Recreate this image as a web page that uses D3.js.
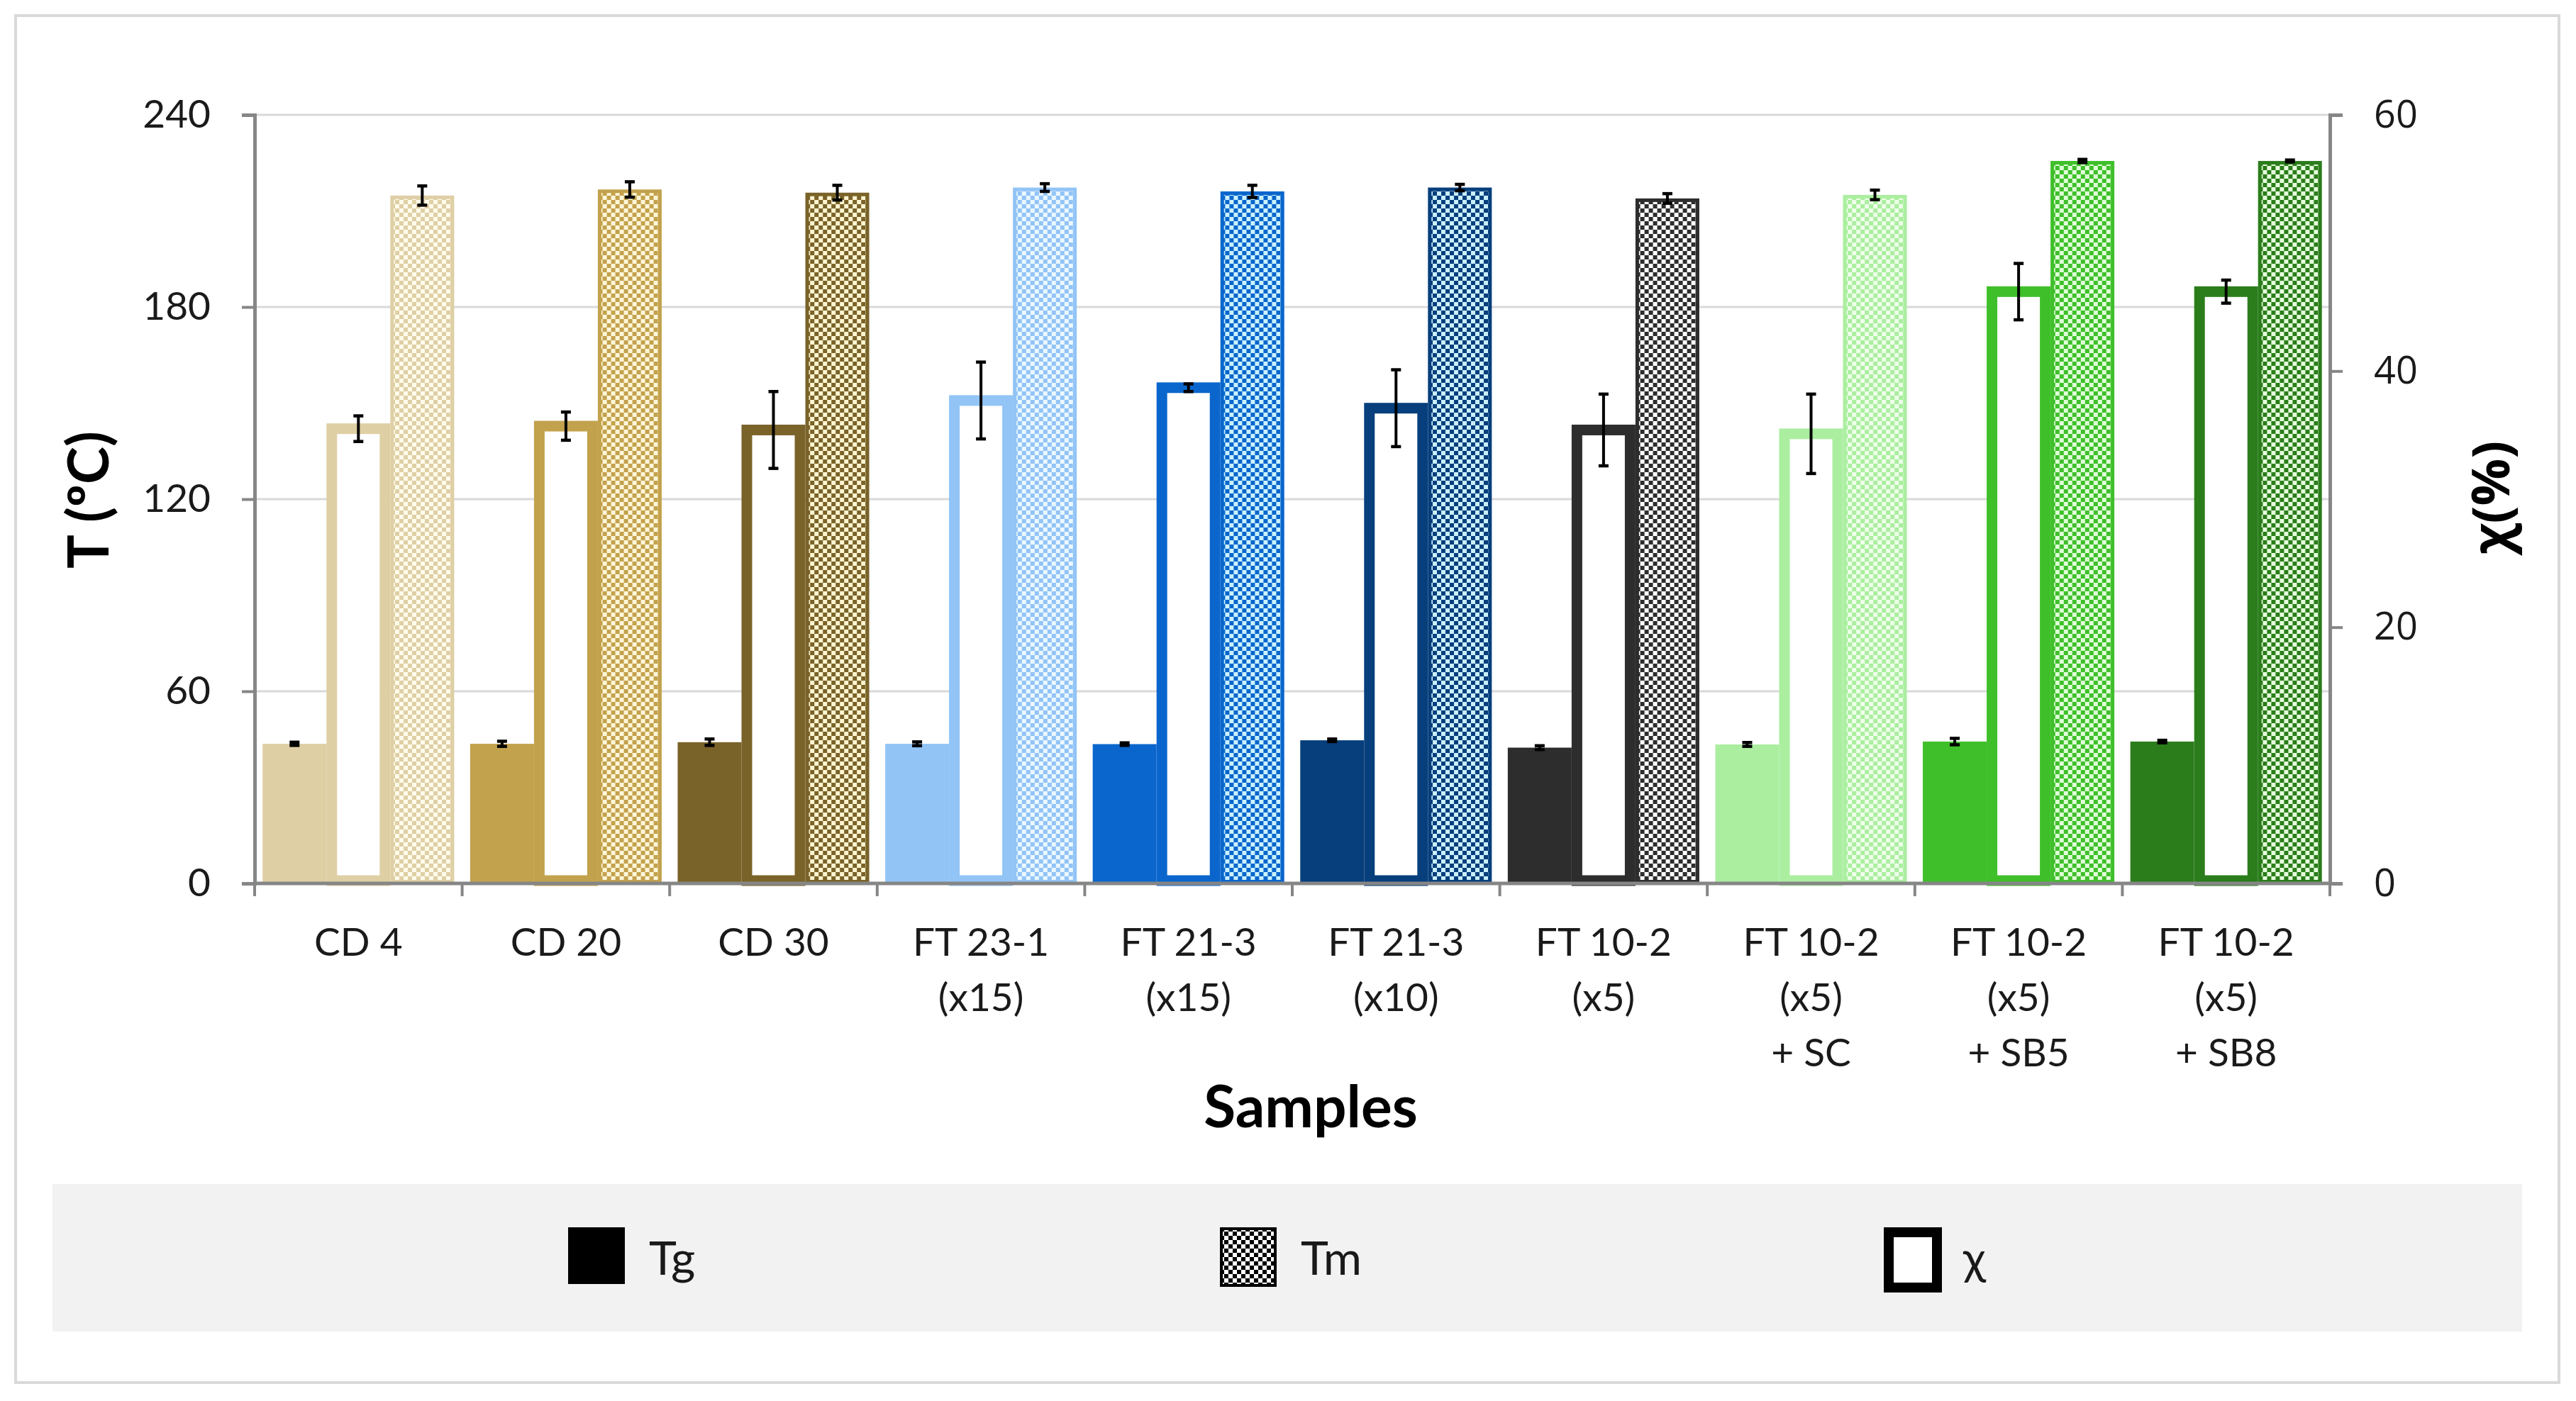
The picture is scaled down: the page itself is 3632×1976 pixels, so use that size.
<!DOCTYPE html>
<html>
<head>
<meta charset="utf-8">
<script src="https://cdn.jsdelivr.net/npm/d3@7/dist/d3.min.js"></script>
<style>
  html, body { margin: 0; padding: 0; background: #fff; }
  svg { display: block; }
</style>
</head>
<body>
<script>
// ---------- DATA ----------
const categories = ["CD 4", "CD 20", "CD 30", "FT 23-1\n(x15)", "FT 21-3\n(x15)", "FT 21-3\n(x10)",
                    "FT 10-2\n(x5)", "FT 10-2\n(x5)\n+ SC", "FT 10-2\n(x5)\n+ SB5", "FT 10-2\n(x5)\n+ SB8"];
const tg     = [43.6, 43.6, 44.1, 43.6, 43.5, 44.7, 42.4, 43.4, 44.3, 44.3];
const tgErr  = [0.5, 0.8, 1.0, 0.6, 0.4, 0.4, 0.6, 0.6, 1.0, 0.4];
const chi    = [35.5, 35.7, 35.4, 37.7, 38.7, 37.1, 35.4, 35.1, 46.2, 46.2];
const chiErr = [1.0, 1.1, 3.0, 3.0, 0.3, 3.0, 2.8, 3.1, 2.2, 0.9];
const tm     = [214.8, 216.7, 215.7, 217.3, 216.1, 217.3, 213.9, 215.0, 225.6, 225.6];
const tmErr  = [3.0, 2.4, 2.3, 1.2, 1.9, 1.0, 1.5, 1.5, 0.5, 0.3];
const leftTicks  = [0, 60, 120, 180, 240];
const rightTicks = [0, 20, 40, 60];
const seriesKeys = ["Tg", "χ", "Tm"];
const legendNames = ["Tg", "Tm", "χ"];
const mainColors  = ["#dfcfa5", "#c3a24d", "#7a6329", "#92c4f6", "#0a66cc", "#073f7c", "#2d2d2d", "#abeea0", "#3fbf2a", "#2b7d1b"];
const lightColors = ["#fffbea", "#fff6d8", "#fff5d0", "#eaf8ff", "#c9f1ff", "#c9efff", "#ffffff", "#eeffea", "#e0ffd8", "#e4ffdc"];

// ---------- LAYOUT ----------
const W = 3632, H = 1976;
const plot = { left: 359, right: 3285, top: 162, bottom: 1246 };
const FONT = "Lato, 'Open Sans', sans-serif";
const FONT2 = "'Open Sans', 'Noto Sans', sans-serif";

const svg = d3.select("body").append("svg").attr("width", W).attr("height", H);

// outer frame
svg.append("rect").attr("x", 22).attr("y", 22).attr("width", 3586).attr("height", 1928)
  .attr("fill", "#fff").attr("stroke", "#d9d9d9").attr("stroke-width", 4);

// scales
const x0 = d3.scaleBand().domain(categories).range([plot.left, plot.right]).padding(0);
const x1 = d3.scaleBand().domain(seriesKeys).range([0, x0.bandwidth()]).paddingInner(0).paddingOuter(0.125);
const yL = d3.scaleLinear().domain([0, 240]).range([plot.bottom, plot.top]);
const yR = d3.scaleLinear().domain([0, 60]).range([plot.bottom, plot.top]);

// patterns
const defs = svg.append("defs");
const cell = 6;
categories.forEach((c, i) => {
  const p = defs.append("pattern").attr("id", "chk" + i).attr("patternUnits", "userSpaceOnUse")
    .attr("width", cell * 2).attr("height", cell * 2);
  p.append("rect").attr("width", cell * 2).attr("height", cell * 2).attr("fill", lightColors[i]);
  p.append("rect").attr("width", cell).attr("height", cell).attr("fill", mainColors[i]);
  p.append("rect").attr("x", cell).attr("y", cell).attr("width", cell).attr("height", cell).attr("fill", mainColors[i]);
});
const lp = defs.append("pattern").attr("id", "chkLegend").attr("patternUnits", "userSpaceOnUse")
  .attr("width", cell * 2).attr("height", cell * 2);
lp.append("rect").attr("width", cell * 2).attr("height", cell * 2).attr("fill", "#fff");
lp.append("rect").attr("width", cell).attr("height", cell).attr("fill", "#000");
lp.append("rect").attr("x", cell).attr("y", cell).attr("width", cell).attr("height", cell).attr("fill", "#000");

// gridlines
svg.append("g").selectAll("line").data(leftTicks.filter(d => d > 0)).join("line")
  .attr("x1", plot.left).attr("x2", plot.right)
  .attr("y1", d => yL(d)).attr("y2", d => yL(d))
  .attr("stroke", "#d9d9d9").attr("stroke-width", 3);

// bars
const groups = svg.append("g").selectAll("g").data(categories).join("g")
  .attr("transform", d => `translate(${x0(d)},0)`);

// Tg
groups.append("rect")
  .attr("x", x1("Tg")).attr("width", x1.bandwidth())
  .attr("y", (d, i) => yL(tg[i])).attr("height", (d, i) => yL(0) - yL(tg[i]))
  .attr("fill", (d, i) => mainColors[i]);

// chi (outlined, white)
const sw = 15;
groups.append("rect")
  .attr("x", x1("χ") + sw / 2).attr("width", x1.bandwidth() - sw)
  .attr("y", (d, i) => yR(chi[i])).attr("height", (d, i) => yR(0) - yR(chi[i]) - 4)
  .attr("fill", "#fff").attr("stroke", (d, i) => mainColors[i]).attr("stroke-width", sw);

// Tm (checker)
const tw = 5;
groups.append("rect")
  .attr("x", x1("Tm") + tw / 2).attr("width", x1.bandwidth() - tw)
  .attr("y", (d, i) => yL(tm[i]) + tw / 2).attr("height", (d, i) => yL(0) - yL(tm[i]) - tw)
  .attr("fill", (d, i) => `url(#chk${i})`).attr("stroke", (d, i) => mainColors[i]).attr("stroke-width", tw);

// error bars
function errBars(key, vals, errs, scale) {
  const cx = x1(key) + x1.bandwidth() / 2;
  const g = groups.append("g").attr("stroke", "#000");
  g.append("line").attr("x1", cx).attr("x2", cx)
    .attr("y1", (d, i) => scale(vals[i] - errs[i])).attr("y2", (d, i) => scale(vals[i] + errs[i]))
    .attr("stroke-width", 4);
  [-1, 1].forEach(s => {
    g.append("line").attr("x1", cx - 7).attr("x2", cx + 7)
      .attr("y1", (d, i) => scale(vals[i] + s * errs[i])).attr("y2", (d, i) => scale(vals[i] + s * errs[i]))
      .attr("stroke-width", 4.5);
  });
}
errBars("Tg", tg, tgErr, yL);
errBars("χ", chi, chiErr, yR);
errBars("Tm", tm, tmErr, yL);

// axes
const axisColor = "#868686";
const gL = svg.append("g").attr("transform", `translate(${plot.left},0)`)
  .call(d3.axisLeft(yL).tickValues(leftTicks).tickSize(18).tickPadding(44).tickFormat(d3.format("d")));
const gR = svg.append("g").attr("transform", `translate(${plot.right},0)`)
  .call(d3.axisRight(yR).tickValues(rightTicks).tickSize(18).tickPadding(44).tickFormat(d3.format("d")));
[gL, gR].forEach(g => {
  g.select(".domain").attr("stroke", axisColor).attr("stroke-width", 5);
  g.selectAll(".tick line").attr("stroke", axisColor).attr("stroke-width", 4);
});
gL.selectAll(".tick text").attr("font-family", FONT).attr("font-size", 55).attr("fill", "#1a1a1a");
gR.selectAll(".tick text").attr("font-family", FONT2).attr("font-size", 54).attr("fill", "#1a1a1a");

// bottom axis
const gB = svg.append("g");
gB.append("line").attr("x1", plot.left).attr("x2", plot.right)
  .attr("y1", plot.bottom).attr("y2", plot.bottom)
  .attr("stroke", axisColor).attr("stroke-width", 5);
const bounds = categories.map(c => x0(c)).concat([x0(categories[categories.length - 1]) + x0.bandwidth()]);
gB.selectAll("line.t").data(bounds).join("line").attr("class", "t")
  .attr("x1", d => d).attr("x2", d => d).attr("y1", plot.bottom).attr("y2", plot.bottom + 18)
  .attr("stroke", axisColor).attr("stroke-width", 4);
const lbl = gB.selectAll("text").data(categories).join("text")
  .attr("x", d => x0(d) + x0.bandwidth() / 2).attr("y", 1348)
  .attr("text-anchor", "middle").attr("font-family", FONT).attr("font-size", 55).attr("fill", "#1a1a1a");
lbl.selectAll("tspan").data(d => d.split("\n")).join("tspan")
  .attr("x", function () { return this.parentNode.getAttribute("x"); })
  .attr("dy", (d, i) => i === 0 ? 0 : 78)
  .text(d => d);

// axis titles
svg.append("text").attr("x", 1848).attr("y", 1590)
  .attr("text-anchor", "middle").attr("font-family", FONT).attr("font-weight", "bold")
  .attr("font-size", 82).attr("fill", "#000").text("Samples");
svg.append("text").attr("transform", "translate(153,705) rotate(-90)")
  .attr("text-anchor", "middle").attr("font-family", FONT).attr("font-weight", "bold")
  .attr("font-size", 80).attr("fill", "#000").text("T (ºC)");
svg.append("text").attr("transform", "translate(3538,702) rotate(-90)")
  .attr("text-anchor", "middle").attr("font-family", FONT2).attr("font-weight", "bold")
  .attr("font-size", 74).attr("fill", "#000").text("χ(%)");

// legend
svg.append("rect").attr("x", 74).attr("y", 1670).attr("width", 3482).attr("height", 208).attr("fill", "#f2f2f2");
const legX = [801, 1720, 2656];
const lg = svg.append("g").selectAll("g").data(legendNames).join("g")
  .attr("transform", (d, i) => `translate(${legX[i]},1731)`);
lg.each(function (d) {
  const g = d3.select(this);
  if (d === "Tg") {
    g.append("rect").attr("width", 80).attr("height", 80).attr("fill", "#000");
  } else if (d === "Tm") {
    g.append("rect").attr("x", 2).attr("y", 2).attr("width", 76).attr("height", 80)
      .attr("fill", "url(#chkLegend)").attr("stroke", "#000").attr("stroke-width", 4);
  } else {
    g.append("rect").attr("x", 7).attr("y", 7).attr("width", 68).attr("height", 78)
      .attr("fill", "#fff").attr("stroke", "#000").attr("stroke-width", 14);
  }
  g.append("text").attr("x", d === "χ" ? 112 : 114).attr("y", 67)
    .attr("font-family", FONT).attr("font-size", 66).attr("fill", "#1a1a1a").text(d);
});
</script>
</body>
</html>
